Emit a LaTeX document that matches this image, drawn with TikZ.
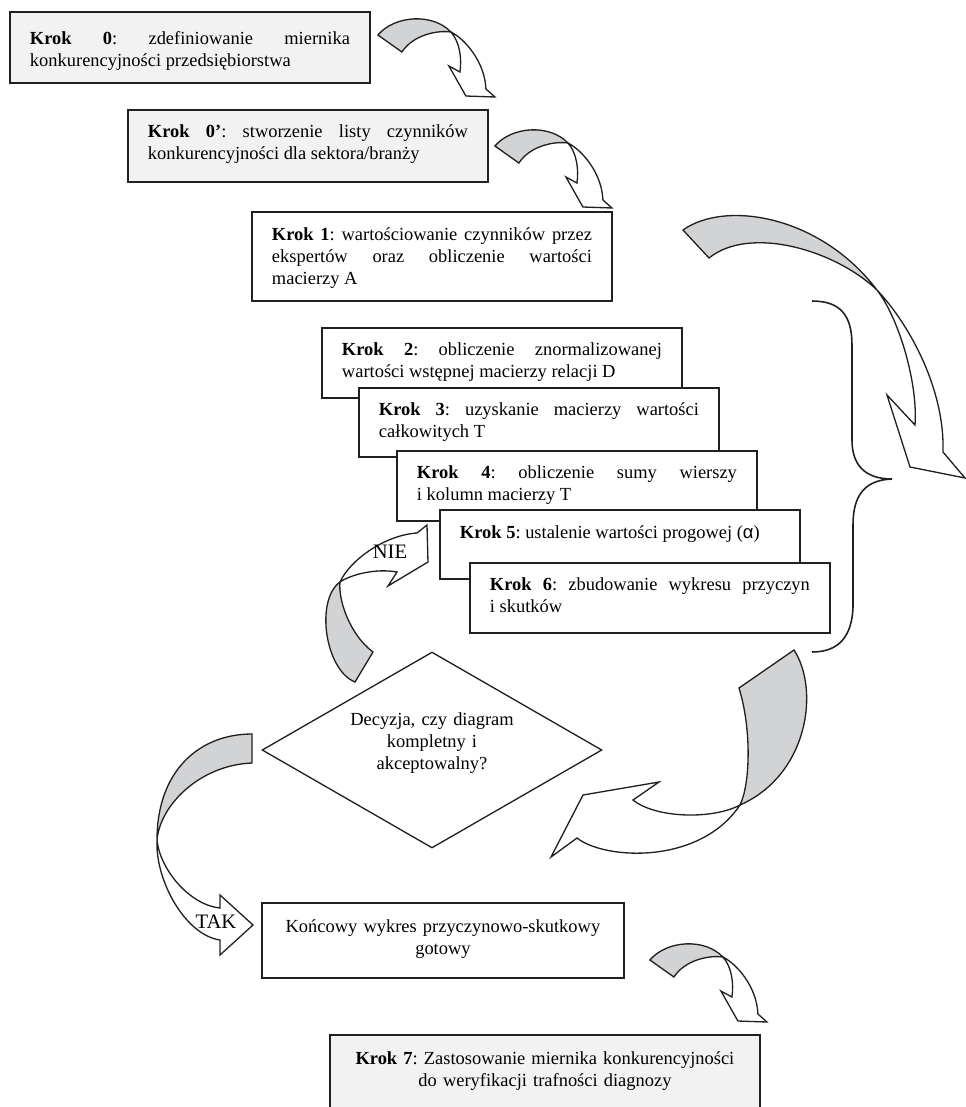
\documentclass[tikz,border=0pt]{standalone}
\usepackage{fontspec}
\setmainfont{Liberation Serif}
\newfontfamily\greekfont{Liberation Sans}
\usetikzlibrary{shapes.geometric,calc}
\definecolor{DmInk}{RGB}{35,31,32}
\definecolor{DmShade}{RGB}{210,211,213}
\definecolor{DmPaper}{RGB}{242,242,243}
\tolerance=10000
\hyphenpenalty=10000
\frenchspacing
\tikzset{
  dm/box/.style={
    draw=DmInk,
    line width=1.1pt,
    fill=white,
    anchor=north west,
    outer sep=0pt,
    inner xsep=0.4cm,
    inner ysep=0pt,
    text width=6.4cm,
    text height=0.54cm,
    align=justify,
    font=\fontsize{10.5}{12.6}\selectfont
  },
  dm/softbox/.style={dm/box, fill=DmPaper},
  dm/decision/.style={
    diamond,
    aspect=1.73,
    draw=DmInk,
    line width=0.75pt,
    fill=white,
    minimum width=6.8cm,
    minimum height=3.92cm,
    inner sep=0pt,
    text width=3.8cm,
    text height=0.25cm,
    text depth=1.25cm,
    align=center,
    font=\fontsize{10.5}{12.6}\selectfont
  },
  dm/shade/.style={draw=DmInk, line width=0.75pt, fill=DmShade},
  dm/band/.style={draw=DmInk, line width=0.75pt, fill=white},
  dm/brace/.style={draw=DmInk, line width=0.9pt},
  dm/tag/.style={inner sep=0pt, font=\fontsize{11.7}{13}\selectfont},
  dm/curl/.pic={
    \draw[dm/shade] (-117,-62) .. controls (-100,-82) and (-62,-84) .. (-44,-65)
      .. controls (-58,-67) and (-82,-62) .. (-93,-45) -- cycle;
    \draw[dm/band] (-44,-65) .. controls (-30,-58) and (-10,-35) .. (-9,-8)
      -- (0,0) -- (-29,-1) -- (-46,-31) -- (-35,-25)
      .. controls (-33,-38) and (-35,-55) .. (-44,-65) -- cycle;
  }
}

\begin{document}
\begin{tikzpicture}[x=0.02cm,y=-0.02cm]
  \useasboundingbox (0,0) rectangle (965,1107);

  % kroki 0 - 1
  \node[dm/softbox, text height=0.64cm, text depth=0.78cm] (k0) at (10,12)
    {\textbf{Krok 0}: zdefiniowanie miernika \linebreak konkurencyjności przedsiębiorstwa};
  \node[dm/softbox, text depth=0.90cm] (k0p) at (128,110)
    {\textbf{Krok 0’}: stworzenie listy czynników \linebreak konkurencyjności dla sektora/branży};
  \node[dm/box, text height=0.56cm, text depth=1.22cm] (k1) at (252,212)
    {\textbf{Krok 1}: wartościowanie czynników przez \linebreak ekspertów oraz obliczenie wartości \linebreak macierzy A};

  % kroki 2 - 6
  \node[dm/box, text depth=0.86cm] (k2) at (322,328)
    {\textbf{Krok 2}: obliczenie znormalizowanej \linebreak wartości wstępnej macierzy relacji D};
  \node[dm/box, text depth=0.84cm] (k3) at (359,388)
    {\textbf{Krok 3}: uzyskanie macierzy wartości \linebreak całkowitych T};
  \node[dm/box, text depth=0.86cm] (k4) at (397,451)
    {\textbf{Krok 4}: obliczenie sumy wierszy \linebreak i kolumn macierzy T};
  \node[dm/box, text height=0.56cm, text depth=0.82cm] (k5) at (440,510)
    {\textbf{Krok 5}: ustalenie wartości progowej ({\greekfont α})};
  \node[dm/box, text depth=0.86cm] (k6) at (470,563)
    {\textbf{Krok 6}: zbudowanie wykresu przyczyn \linebreak i skutków};

  % decyzja i wynik
  \node[dm/decision] (dec) at (432,750) {Decyzja, czy diagram\\kompletny i\\akceptowalny?};
  \node[dm/box, align=center, text width=6.44cm, text height=0.58cm, text depth=0.92cm] (fin) at (262,903)
    {Końcowy wykres przyczynowo-skutkowy\\gotowy};
  \node[dm/softbox, align=center, text width=7.8cm, text height=0.58cm, text depth=1.02cm] (k7) at (330,1035)
    {\textbf{Krok 7}: Zastosowanie miernika konkurencyjności\\do weryfikacji trafności diagnozy};

  % male strzalki
  \pic at ($(k0p.north east)+(7,-13)$) {dm/curl};
  \pic at ($(k1.north east)+(0,-4)$) {dm/curl};
  \pic at ($(k7.north east)+(7,-13)$) {dm/curl};

  % duza strzalka i klamra
  \draw[dm/shade] (683,230) .. controls (725,200) and (820,215) .. (877,290)
    .. controls (835,250) and (750,225) .. (709,258) -- cycle;
  \draw[dm/band] (877,290) .. controls (910,325) and (945,390) .. (943,452)
    -- (965,478) -- (910,467) -- (887,395) -- (915,425)
    .. controls (918,385) and (900,320) .. (877,290) -- cycle;
  \draw[dm/brace] (812,301) .. controls (840,301) and (852,315) .. (852,345) -- (852,440)
    .. controls (852,465) and (865,479) .. (892,479)
    .. controls (865,480) and (853,495) .. (853,525) -- (853,607)
    .. controls (852,635) and (840,652) .. (812,652);
  \draw[dm/shade] (794,650) .. controls (820,690) and (808,775) .. (740,805)
    .. controls (750,785) and (752,730) .. (739,688) -- cycle;
  \draw[dm/band] (740,805) .. controls (712,820) and (655,818) .. (633,800)
    -- (659,782) -- (583,795) -- (551,857) -- (577,838)
    .. controls (605,860) and (700,865) .. (740,805) -- cycle;

  % NIE
  \draw[dm/shade] (355,682) .. controls (325,670) and (315,600) .. (340,582)
    .. controls (338,600) and (350,635) .. (373,652) -- cycle;
  \draw[dm/band] (340,582) .. controls (350,560) and (385,535) .. (417,533)
    -- (427,525) -- (428,562) -- (388,586) -- (397,572)
    .. controls (375,568) and (350,575) .. (340,582) -- cycle;
  \node[dm/tag] (nie) at (390,552) {NIE};

  % TAK
  \draw[dm/shade] (252,734) .. controls (200,734) and (157,770) .. (157,840)
    .. controls (160,805) and (200,765) .. (252,763) -- cycle;
  \draw[dm/band] (157,840) .. controls (155,880) and (185,935) .. (220,940)
    -- (220,955) -- (253,925) -- (220,895) -- (220,908)
    .. controls (190,905) and (160,870) .. (157,840) -- cycle;
  \node[dm/tag] (tak) at (216,922) {TAK};
\end{tikzpicture}
\end{document}
